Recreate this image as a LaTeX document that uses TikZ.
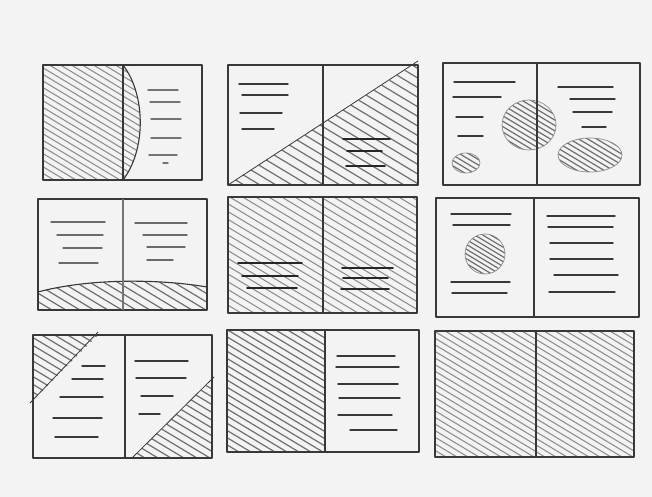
\documentclass[tikz,border=0pt]{standalone}
\definecolor{paper}{HTML}{F3F3F3}
\definecolor{pencil}{HTML}{383838}
\definecolor{hatchc}{HTML}{6E6E6E}
\definecolor{hatchl}{HTML}{8E8E8E}
\tikzset{
  frame/.style={draw=pencil, line width=1.1pt, line join=round},
  textline/.style={draw=pencil, line width=1.4pt, line cap=round},
  darkline/.style={draw=black!85, line width=1.8pt, line cap=round},
  hatchline/.style={draw=hatchc, line width=1.2pt, line cap=round},
  lighthatch/.style={draw=hatchl, line width=1.1pt, line cap=round},
}
% #1 x1, #2 y1, #3 x2, #4 y2, #5 step, #6 style
\newcommand\hatchin[6]{%
  \pgfmathsetmacro\hh{(#4-#2)/0.6}%
  \pgfmathsetmacro\hs{#1-\hh}%
  \pgfmathsetmacro\hn{#1-\hh+#5}%
  \foreach \t in {\hs,\hn,...,#3}{\draw[#6] (\t,#2) -- ++(\hh,{#4-#2});}%
}
\begin{document}
\begin{tikzpicture}[x=1pt,y=-1pt]
\fill[paper] (0,0) rectangle (652,497);
\useasboundingbox (0,0) rectangle (652,497);

% ---------- Panel 1 ----------
\begin{scope}
  \clip (43,65) -- (123,65) .. controls (146,95) and (146,150) .. (123,180) -- (43,180) -- cycle;
  \hatchin{43}{65}{146}{180}{11}{lighthatch}
\end{scope}
\draw[frame] (43,65) rectangle (202,180);
\draw[frame] (123,65) -- (123,180);
\draw[frame] (123,65) .. controls (146,95) and (146,150) .. (123,180);
\foreach \y/\a/\b in {90/148/178, 102/150/180, 119/151/181, 138/151/181, 155/149/177, 163/163/168}
  \draw[textline, draw=pencil!70] (\a,\y) -- (\b,\y);

% ---------- Panel 2 ----------
\begin{scope}
  \clip (228,185) -- (418,62) -- (418,185) -- cycle;
  \hatchin{228}{62}{418}{185}{16}{hatchline}
\end{scope}
\draw[frame] (228,65) rectangle (418,185);
\draw[frame] (323,65) -- (323,185);
\draw[frame, line width=0.8pt] (228,185) -- (418,61);
\foreach \y/\a/\b in {84/239/288, 95/242/288, 113/240/282, 129/242/274}
  \draw[textline] (\a,\y) -- (\b,\y);
\foreach \y/\a/\b in {139/343/390, 151/347/382, 166/346/385}
  \draw[darkline] (\a,\y) -- (\b,\y);

% ---------- Panel 3 ----------
\begin{scope}
  \clip (529,125) ellipse [x radius=27, y radius=25];
  \hatchin{500}{98}{558}{152}{9}{hatchline}
\end{scope}
\draw[hatchl, line width=0.7pt] (529,125) ellipse [x radius=27, y radius=25];
\begin{scope}
  \clip (466,163) ellipse [x radius=14, y radius=10];
  \hatchin{450}{152}{482}{175}{9}{hatchline}
\end{scope}
\draw[hatchl, line width=0.7pt] (466,163) ellipse [x radius=14, y radius=10];
\begin{scope}
  \clip (590,155) ellipse [x radius=32, y radius=17];
  \hatchin{556}{136}{624}{174}{9}{hatchline}
\end{scope}
\draw[hatchl, line width=0.7pt] (590,155) ellipse [x radius=32, y radius=17];
\draw[frame] (443,63) rectangle (640,185);
\draw[frame] (537,63) -- (537,185);
\foreach \y/\a/\b in {82/454/515, 97/453/501, 117/456/483, 136/458/483,
                      87/558/613, 99/570/615, 112/573/612, 127/582/606}
  \draw[textline] (\a,\y) -- (\b,\y);

% ---------- Panel 4 ----------
\begin{scope}
  \clip (38,292) .. controls (90,278) and (160,279) .. (207,287) -- (207,310) -- (38,310) -- cycle;
  \hatchin{38}{278}{207}{310}{14}{hatchline}
\end{scope}
\draw[frame] (38,292) .. controls (90,278) and (160,279) .. (207,287);
\draw[frame] (38,199) rectangle (207,310);
\draw[frame, draw=pencil!70] (123,199) -- (123,310);
\foreach \y/\a/\b in {222/51/105, 235/57/103, 248/63/102, 263/59/98,
                      223/135/187, 235/143/187, 247/147/185, 260/147/173}
  \draw[textline, draw=pencil!75] (\a,\y) -- (\b,\y);

% ---------- Panel 5 ----------
\begin{scope}
  \clip (228,197) rectangle (417,313);
  \hatchin{228}{197}{417}{313}{13}{lighthatch}
\end{scope}
\draw[frame] (228,197) rectangle (417,313);
\draw[frame] (323,197) -- (323,313);
\foreach \y/\a/\b in {263/238/302, 276/242/298, 288/247/297,
                      268/342/393, 278/343/388, 289/341/389}
  \draw[darkline] (\a,\y) -- (\b,\y);

% ---------- Panel 6 ----------
\begin{scope}
  \clip (485,254) circle [radius=20];
  \hatchin{463}{232}{507}{276}{8}{hatchline}
\end{scope}
\draw[hatchl, line width=0.7pt] (485,254) circle [radius=20];
\draw[frame] (436,198) rectangle (639,317);
\draw[frame] (534,198) -- (534,317);
\foreach \y/\a/\b in {214/451/511, 225/453/510, 282/451/510, 293/452/507,
                      216/547/615, 227/548/613, 243/550/613, 259/550/613, 275/554/618, 292/549/615}
  \draw[textline] (\a,\y) -- (\b,\y);

% ---------- Panel 7 ----------
\begin{scope}
  \clip (33,335) -- (98,335) -- (33,400) -- cycle;
  \hatchin{33}{335}{98}{400}{13}{hatchline}
\end{scope}
\begin{scope}
  \clip (132,458) -- (212,380) -- (212,458) -- cycle;
  \hatchin{132}{380}{212}{458}{13}{hatchline}
\end{scope}
\draw[frame] (33,335) rectangle (212,458);
\draw[frame] (125,335) -- (125,458);
\draw[frame, line width=0.8pt] (98,332) -- (30,403);
\draw[frame, line width=0.8pt] (132,458) -- (214,377);
\foreach \y/\a/\b in {366/82/105, 379/72/103, 397/60/103, 418/53/102, 437/55/98,
                      361/135/188, 378/136/186, 396/141/173, 414/139/160}
  \draw[textline] (\a,\y) -- (\b,\y);

% ---------- Panel 8 ----------
\begin{scope}
  \clip (227,330) rectangle (325,452);
  \hatchin{227}{330}{325}{452}{12}{hatchline}
\end{scope}
\draw[frame] (227,330) rectangle (419,452);
\draw[frame] (325,330) -- (325,452);
\foreach \y/\a/\b in {356/337/395, 367/336/399, 384/338/398, 398/339/400, 415/338/392, 430/350/397}
  \draw[textline] (\a,\y) -- (\b,\y);

% ---------- Panel 9 ----------
\begin{scope}
  \clip (435,331) rectangle (634,457);
  \hatchin{435}{331}{634}{457}{11}{lighthatch}
\end{scope}
\draw[frame] (435,331) rectangle (634,457);
\draw[frame] (536,331) -- (536,457);
\end{tikzpicture}
\end{document}
